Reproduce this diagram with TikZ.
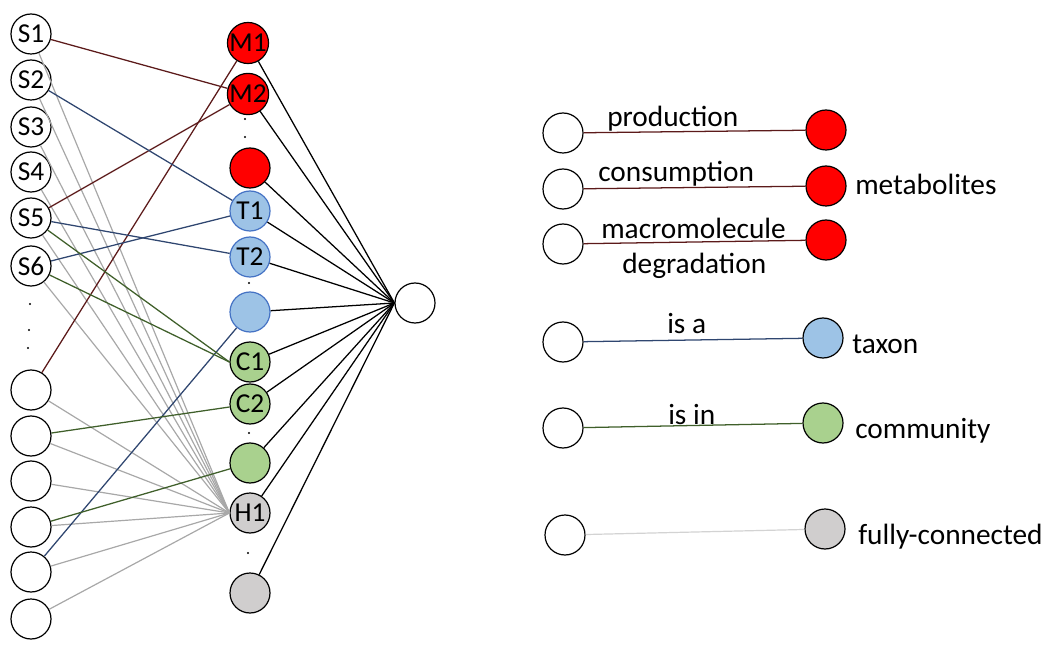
\documentclass[tikz,border=0pt]{standalone}
\usepackage{fontspec}
\setmainfont{Carlito}
\definecolor{mred}{HTML}{FF0000}
\definecolor{tblue}{HTML}{9DC3E6}
\definecolor{tborder}{HTML}{4472C4}
\definecolor{cgreen}{HTML}{A9D18E}
\definecolor{hgray}{HTML}{D0CECE}
\definecolor{ered}{HTML}{5C1A1A}
\definecolor{eblue}{HTML}{2F4670}
\definecolor{egreen}{HTML}{3F5F2A}
\definecolor{egray}{HTML}{A8A8A8}
\definecolor{elight}{HTML}{D3D3D3}
\begin{document}
\begin{tikzpicture}[x=0.75pt,y=-0.75pt,
  nd/.style={circle,draw=black,line width=0.9pt,minimum size=30pt,inner sep=0pt,font=\fontsize{20.5}{22}\selectfont},
  snd/.style={nd,fill=white},
  mnd/.style={nd,fill=mred},
  tnd/.style={nd,fill=tblue,draw=tborder},
  cnd/.style={nd,fill=cgreen},
  hnd/.style={nd,fill=hgray},
  rl/.style={draw=ered,line width=0.95pt},
  bl/.style={draw=eblue,line width=0.95pt},
  gl/.style={draw=egreen,line width=0.95pt},
  yl/.style={draw=egray,line width=0.9pt},
  kl/.style={draw=black,line width=0.95pt},
  lab/.style={font=\fontsize{22}{24}\selectfont,anchor=base west,inner sep=0pt},
  dotmark/.style={circle,fill=black,inner sep=0pt,minimum size=1.8pt}]
\useasboundingbox (0,0) rectangle (1060,652);
% left column
\node[snd] (S1) at (31,34) {S1};
\node[snd] (S2) at (31,80) {S2};
\node[snd] (S3) at (31,127) {S3};
\node[snd] (S4) at (31,172) {S4};
\node[snd] (S5) at (31,218) {S5};
\node[snd] (S6) at (31,266) {S6};
\node[dotmark] (d1) at (30,304) {};
\node[dotmark] (d2) at (29,330) {};
\node[dotmark] (d3) at (28,348) {};
\node[snd] (E1) at (31,390) {};
\node[snd] (E2) at (31,436) {};
\node[snd] (E3) at (31,481) {};
\node[snd] (E4) at (31,527) {};
\node[snd] (E5) at (31,572) {};
\node[snd] (E6) at (31,619) {};
% middle column
\node[mnd] (M1) at (248,43) {M1};
\node[mnd] (M2) at (248,94) {M2};
\node[dotmark] (d4) at (245,119) {};
\node[dotmark] (d5) at (245,137) {};
\node[mnd] (M3) at (250,168) {};
\node[tnd] (T1) at (250,211) {T1};
\node[tnd] (T2) at (250,257) {T2};
\node[dotmark] (d6) at (249,283) {};
\node[tnd] (T3) at (250,312) {};
\node[cnd] (C1) at (250,362) {C1};
\node[cnd] (C2) at (250,404) {C2};
\node[dotmark] (d7) at (249,433) {};
\node[cnd] (C3) at (250,463) {};
\node[hnd] (H1) at (250,513) {H1};
\node[dotmark] (d8) at (248,553) {};
\node[hnd] (H2) at (250,593) {};
% hub
\node[snd] (hub) at (415,303) {};
% gray fully connected edges
\foreach \s in {S1,S2,S3,S4,S5,S6,E1,E2,E3,E4,E5,E6}
  \draw[yl] (\s) -- (H1.west);
% typed edges
\draw[rl] (S1) -- (M2);
\draw[rl] (S5) -- (M2);
\draw[rl] (E1) -- (M1);
\draw[bl] (S2) -- (T1);
\draw[bl] (S6) -- (T1);
\draw[bl] (S5) -- (T2);
\draw[bl] (E5) -- (T3);
\draw[gl] (S5) -- (C1.west);
\draw[gl] (S6) -- (C1.west);
\draw[gl] (E2) -- (C2);
\draw[gl] (E4) -- (C3);
% hub edges
\foreach \m in {M1,M2,M3,T1,T2,T3,C1,C2,C3,H1,H2}
  \draw[kl] (\m) -- (hub.west);
% legend
\node[snd] (L1) at (563,133) {};
\node[mnd] (R1) at (826,130) {};
\node[snd] (L2) at (563,189) {};
\node[mnd] (R2) at (826,186) {};
\node[snd] (L3) at (563,244) {};
\node[mnd] (R3) at (826,240) {};
\node[snd] (L4) at (563,342) {};
\node[tnd,draw=black] (R4) at (823,338) {};
\node[snd] (L5) at (563,428) {};
\node[cnd] (R5) at (823,423) {};
\node[snd] (L6) at (565,535) {};
\node[hnd] (R6) at (825,529) {};
\draw[rl] (L1) -- (R1);
\draw[rl] (L2) -- (R2);
\draw[rl] (L3) -- (R3);
\draw[bl] (L4) -- (R4);
\draw[gl] (L5) -- (R5);
\draw[draw=elight,line width=0.9pt] (L6) -- (R6);
\node[lab] (t1) at (607,127) {production};
\node[lab] (t2) at (598,182) {consumption};
\node[lab] (t3) at (601,239) {macromolecule};
\node[lab] (t4) at (622,274) {degradation};
\node[lab] (t5) at (855,195) {metabolites};
\node[lab] (t6) at (667,334) {is a};
\node[lab] (t7) at (852,353) {taxon};
\node[lab] (t8) at (668,424) {is in};
\node[lab] (t9) at (855,438) {community};
\node[lab] (t10) at (858,544) {fully-connected};
\end{tikzpicture}
\end{document}
